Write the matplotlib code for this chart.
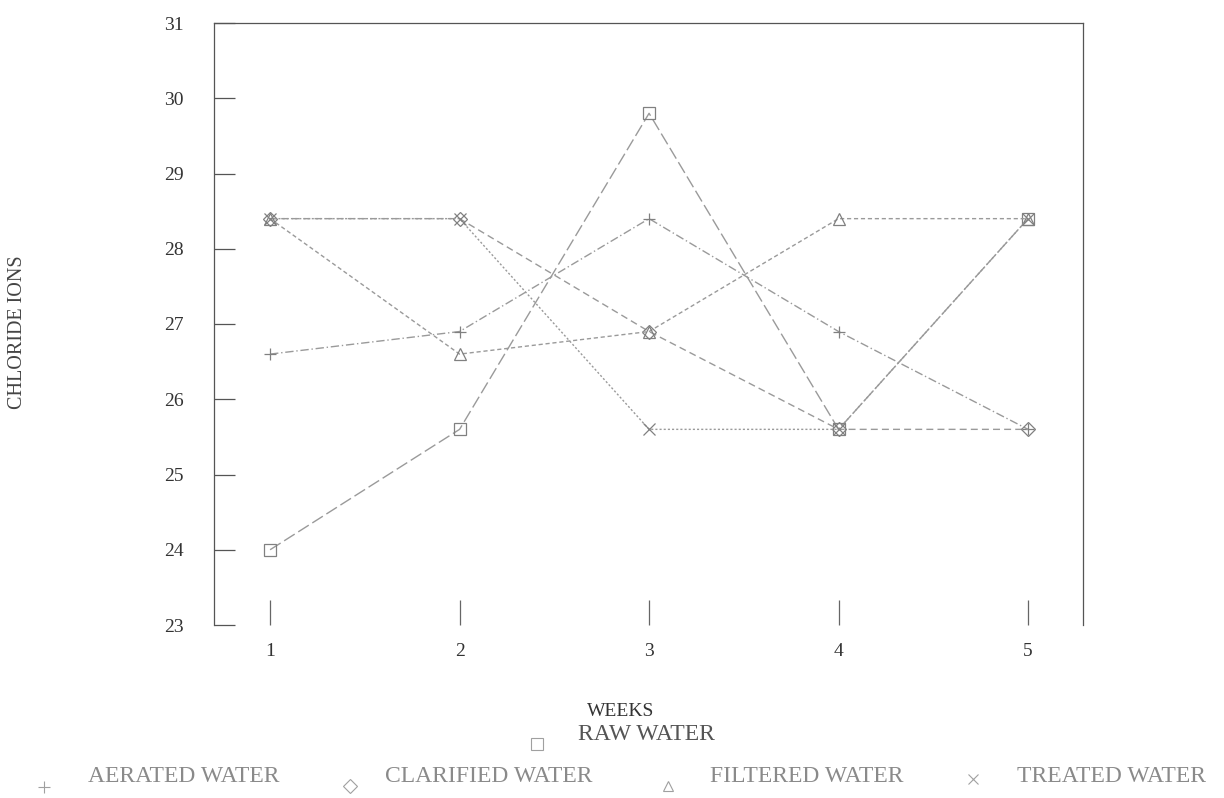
import matplotlib
matplotlib.use("Agg")
import matplotlib.pyplot as plt
from matplotlib.lines import Line2D

plt.rcParams["font.family"] = ["Liberation Serif", "DejaVu Serif"]

WEEKS = [1, 2, 3, 4, 5]
RAW = [24.0, 25.6, 29.8, 25.6, 28.4]
AERATED = [26.6, 26.9, 28.4, 26.9, 25.6]
CLARIFIED = [28.4, 28.4, 26.9, 25.6, 25.6]
FILTERED = [28.4, 26.6, 26.9, 28.4, 28.4]
TREATED = [28.4, 28.4, 25.6, 25.6, 28.4]

LCOL = "#9a9a9a"
series = [
    ("RAW WATER", RAW, "s", (0, (9, 3)), 9),
    ("AERATED WATER", AERATED, "+", (0, (6, 2, 1, 2)), 9),
    ("CLARIFIED WATER", CLARIFIED, "D", (0, (5, 3)), 7),
    ("FILTERED WATER", FILTERED, "^", (0, (3, 2)), 8),
    ("TREATED WATER", TREATED, "x", (0, (1.5, 1.5)), 8),
]

fig = plt.figure(figsize=(12.24, 7.98), dpi=100)
ax = fig.add_axes([214 / 1224, 1 - 625 / 798, (1083 - 214) / 1224, (625 - 23) / 798])
for name, vals, mk, ls, ms in series:
    ax.plot(WEEKS, vals, color=LCOL, lw=1.0, ls=ls, marker=mk, ms=ms,
            mfc="none", mec="#808080", mew=0.9)

ax.set_xlim(0.704, 5.29)
ax.set_ylim(23, 31)
ax.set_xticks(WEEKS)
ax.set_yticks(range(23, 32))
ax.spines["bottom"].set_visible(False)
for s in ["left", "top", "right"]:
    ax.spines[s].set_color("#555555"); ax.spines[s].set_linewidth(0.9)
ax.tick_params(axis="y", direction="in", length=15, width=0.9, color="#555555",
               labelsize=14, labelcolor="#333333", pad=22)
ax.tick_params(axis="x", direction="in", length=18, width=0.9, color="#666666",
               labelsize=14, labelcolor="#333333", pad=13)

fig.text(18 / 1224, 1 - 332 / 798, "CHLORIDE IONS", rotation=90, ha="center", va="center",
         fontsize=14.5, color="#444444")
fig.text(621 / 1224, 1 - 711 / 798, "WEEKS", ha="center", va="center", fontsize=14,
         color="#333333")

# legend (manual layout, as in the reference)
leg = [("RAW WATER", "s", 537, 744, 578, 735),
       ("AERATED WATER", "+", 44, 787, 88, 776),
       ("CLARIFIED WATER", "D", 350, 786, 385, 776),
       ("FILTERED WATER", "^", 668, 786, 710, 776),
       ("TREATED WATER", "x", 973, 779, 1017, 776)]
for name, mk, mx, my, tx, ty in leg:
    ms = 9 if mk in "s+" else 7
    fig.add_artist(Line2D([mx / 1224], [1 - my / 798], transform=fig.transFigure, marker=mk,
                          ls="none", ms=ms, mfc="none", mec="#a0a0a0", mew=0.8))
    fig.text(tx / 1224, 1 - ty / 798, name, ha="left", va="center", fontsize=17,
             color="#555555" if name == "RAW WATER" else "#8a8a8a")

fig.savefig("out.png", dpi=100)
